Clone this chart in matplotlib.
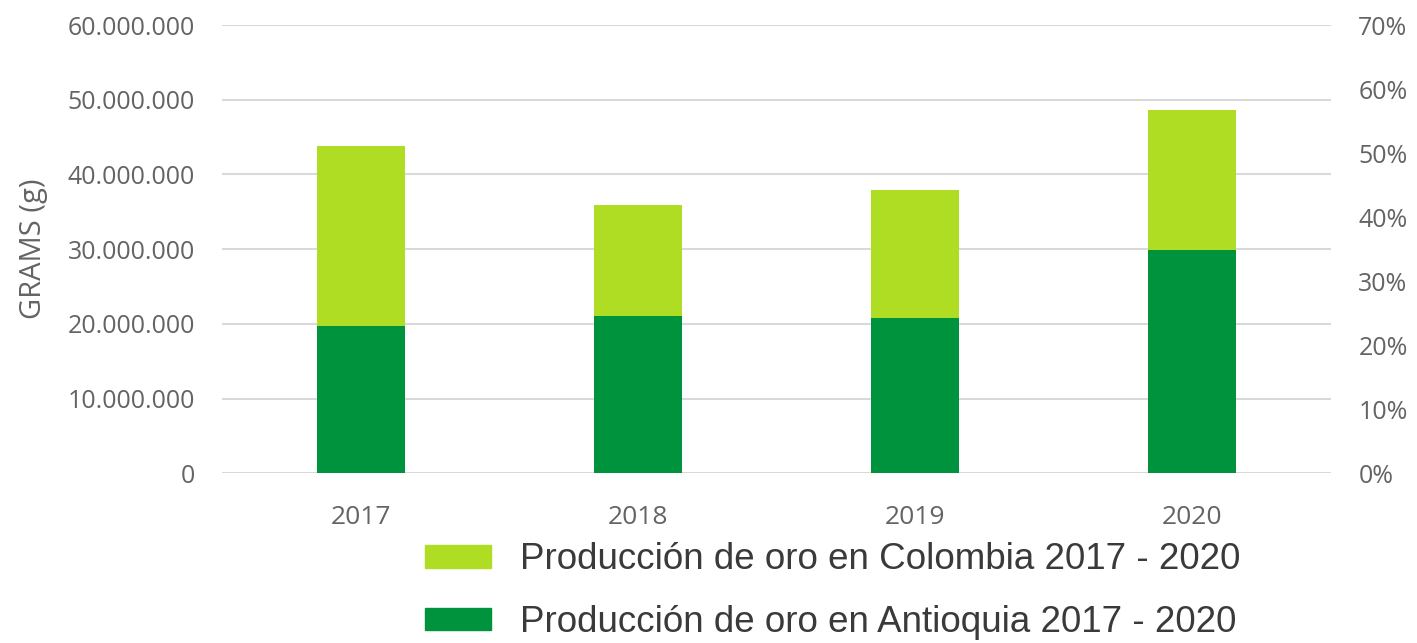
import matplotlib.pyplot as plt
from matplotlib.patches import Patch
from matplotlib.ticker import FuncFormatter

# Data (grams)
years = ["2017", "2018", "2019", "2020"]
colombia = [43800000, 35900000, 37900000, 48600000]
antioquia = [19700000, 21000000, 20800000, 29900000]

light_green = "#AEDD23"
dark_green = "#00933E"
tick_gray = "#646464"

plt.rcParams["font.family"] = ["Open Sans", "DejaVu Sans"]

fig = plt.figure(figsize=(14.17, 6.43), dpi=100)
ax = fig.add_axes([0.157, 0.264, 0.782, 0.697])

x = range(len(years))
ax.bar(x, colombia, width=0.32, color=light_green, zorder=2)
ax.bar(x, antioquia, width=0.32, color=dark_green, zorder=3)

ax.set_xlim(-0.5, len(years) - 0.5)
ax.set_ylim(0, 60000000)
ax.set_yticks(range(0, 60000001, 10000000))
ax.yaxis.set_major_formatter(FuncFormatter(lambda v, p: f"{int(v):,}".replace(",", ".")))
ax.set_xticks(list(x))
ax.set_xticklabels(years)
ax.grid(axis="y", color="#d9d9d9", linewidth=1.5, zorder=0)
ax.set_axisbelow(True)
for s in ax.spines.values():
    s.set_visible(False)
ax.tick_params(axis="y", length=0, labelsize=18, colors=tick_gray, pad=20)
ax.tick_params(axis="x", length=0, labelsize=19, colors=tick_gray, pad=23)
ax.set_ylabel("GRAMS (g)", fontsize=21, color=tick_gray, labelpad=14)

ax2 = ax.twinx()
ax2.set_ylim(0, 0.7)
ax2.set_yticks([i / 10 for i in range(8)])
ax2.yaxis.set_major_formatter(FuncFormatter(lambda v, p: f"{v * 100:.0f}%"))
for s in ax2.spines.values():
    s.set_visible(False)
ax2.tick_params(length=0, labelsize=18, colors=tick_gray, pad=20)

handles = [Patch(color=light_green), Patch(color=dark_green)]
labels = ["Producción de oro en Colombia 2017 - 2020",
          "Producción de oro en Antioquia 2017 - 2020"]
leg = fig.legend(handles, labels, loc="upper left", bbox_to_anchor=(0.287, 0.185),
                 frameon=False, handlelength=1.8, handleheight=0.55,
                 handletextpad=0.78, labelspacing=0.74, borderpad=0,
                 prop={"family": ["Liberation Sans", "DejaVu Sans"], "size": 26.5})
for t in leg.get_texts():
    t.set_color("#3a3a3a")

fig.savefig("out.png", dpi=100)
